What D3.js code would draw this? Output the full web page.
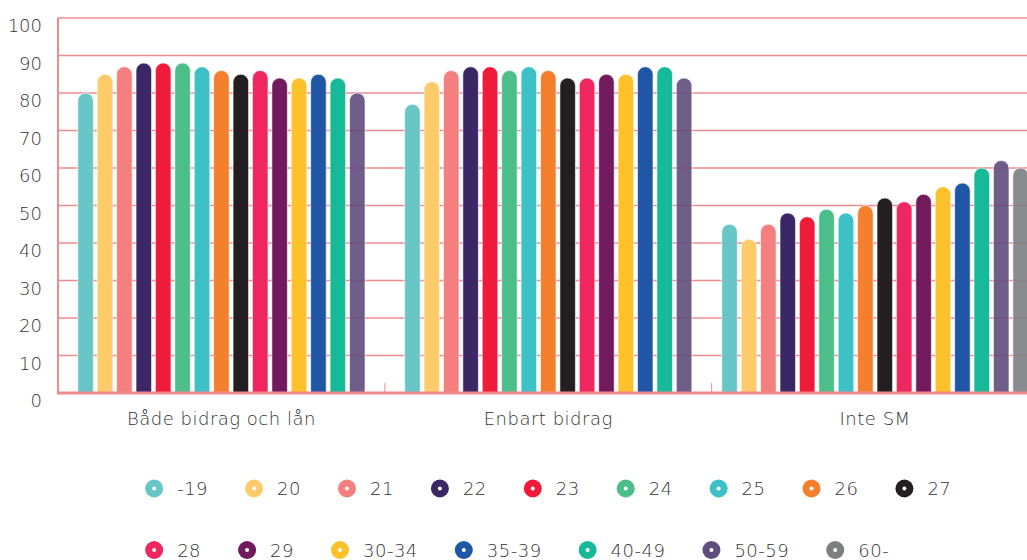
<!DOCTYPE html>
<html>
<head>
<meta charset="utf-8">
<script src="https://cdn.jsdelivr.net/npm/d3@7/dist/d3.min.js"></script>
<style>
  html, body { margin: 0; padding: 0; background: #fff; overflow: hidden; }
  svg { display: block; font-family: "DejaVu Sans", sans-serif; font-weight: 200; }
</style>
</head>
<body>
<svg id="chart" width="1027" height="560"></svg>
<script>
const categories = ["Både bidrag och lån", "Enbart bidrag", "Inte SM"];
const seriesNames = ["-19", "20", "21", "22", "23", "24", "25", "26", "27", "28", "29", "30-34", "35-39", "40-49", "50-59", "60-"];
const seriesColors = ["#68c6c6", "#fecb6a", "#f47f7f", "#3b2766", "#ef1b3b", "#4cbe89", "#3cc1c7", "#f47f2c", "#231f20", "#ee285e", "#721a5e", "#fec12a", "#1f56a6", "#16b998", "#5f4d7d", "#7d7e82"];
// values per series, one per category (null = no bar)
const valuesBothGrantLoan = [80, 85, 87, 88, 88, 88, 87, 86, 85, 86, 84, 84, 85, 84, 80, null];
const valuesGrantOnly     = [77, 83, 86, 87, 87, 86, 87, 86, 84, 84, 85, 85, 87, 87, 84, null];
const valuesNotSM         = [45, 41, 45, 48, 47, 49, 48, 50, 52, 51, 53, 55, 56, 60, 62, 60];
const yTicks = [0, 10, 20, 30, 40, 50, 60, 70, 80, 90, 100];

const groupValues = [valuesBothGrantLoan, valuesGrantOnly, valuesNotSM];

const svg = d3.select("#chart");
const plotLeft = 58, plotRight = 1038.5, plotTop = 18, plotBottom = 393;
const textColor = "#333333";
const gridColor = "#f28a8c";

const x = d3.scaleBand().domain(categories).range([plotLeft, plotRight]).padding(0);
const y = d3.scaleLinear().domain([0, 100]).range([plotBottom, plotTop]);

// gridlines
svg.append("g").selectAll("line").data(yTicks.filter(d => d > 0)).join("line")
  .attr("x1", plotLeft).attr("x2", plotRight)
  .attr("y1", d => y(d)).attr("y2", d => y(d))
  .attr("stroke", gridColor).attr("stroke-width", 1.5);

// y labels
svg.append("g").selectAll("text").data(yTicks).join("text")
  .attr("x", 42).attr("y", d => y(d) + 14)
  .attr("text-anchor", "end")
  .attr("font-size", 18).attr("fill", textColor)
  .text(d => d);

// bars
const pitch = x.bandwidth() * 0.95 / 16;
categories.forEach((cat, gi) => {
  const vals = groupValues[gi];
  const present = seriesNames.map((s, i) => ({ s, i, v: vals[i] })).filter(d => d.v !== null);
  const c = x(cat) + x.bandwidth() / 2;
  const n = present.length;
  const inner = d3.scaleBand().domain(present.map(d => d.s))
    .range([c - n * pitch / 2, c + n * pitch / 2]).paddingInner(0.2).paddingOuter(0.1);
  const w = inner.bandwidth();
  const r = w / 2;
  svg.append("g").selectAll("path").data(present).join("path")
    .attr("d", d => {
      const x0 = inner(d.s), x1 = x0 + w, yt = y(d.v), yb = y(0);
      return `M${x0},${yb} L${x0},${yt + r} A${r},${r} 0 0 1 ${x1},${yt + r} L${x1},${yb} Z`;
    })
    .attr("fill", d => seriesColors[d.i])
    .attr("fill-opacity", d => d.i >= 14 ? 0.9 : 1)
    .attr("stroke", "#ffffff").attr("stroke-width", 0.6);
});

// axes lines
svg.append("line").attr("x1", plotLeft).attr("x2", plotLeft).attr("y1", plotTop).attr("y2", plotBottom + 1.5)
  .attr("stroke", gridColor).attr("stroke-width", 2);
svg.append("line").attr("x1", plotLeft).attr("x2", plotRight).attr("y1", plotBottom).attr("y2", plotBottom)
  .attr("stroke", gridColor).attr("stroke-width", 3);
// category tick marks at band boundaries
svg.append("g").selectAll("line").data(categories.slice(1)).join("line")
  .attr("x1", d => x(d)).attr("x2", d => x(d))
  .attr("y1", plotBottom - 10).attr("y2", plotBottom)
  .attr("stroke", gridColor).attr("stroke-width", 1);

// category labels
svg.append("g").selectAll("text").data(categories).join("text")
  .attr("x", d => x(d) + x.bandwidth() / 2).attr("y", 425)
  .attr("text-anchor", "middle").attr("font-size", 18).attr("fill", textColor)
  .attr("letter-spacing", 0.5)
  .text(d => d);

// legend
const legend = svg.append("g");
const items = seriesNames.map((s, i) => {
  const g = legend.append("g");
  g.append("circle").attr("cx", 9).attr("cy", 0).attr("r", 9).attr("fill", seriesColors[i]);
  g.append("circle").attr("cx", 9).attr("cy", 0).attr("r", 2).attr("fill", "#ffffff");
  const t = g.append("text").attr("x", 32).attr("y", 6.5).attr("font-size", 18).attr("fill", textColor)
    .attr("letter-spacing", 0.5).text(s);
  const tw = t.node().getComputedTextLength();
  return { g, width: 32 + tw + 37 };
});
const maxRowWidth = 880;
const rows = [];
let cur = [], curW = 0;
items.forEach(it => {
  if (curW + it.width > maxRowWidth && cur.length) { rows.push({ items: cur, w: curW }); cur = []; curW = 0; }
  cur.push(it); curW += it.width;
});
if (cur.length) rows.push({ items: cur, w: curW });
const boxW = d3.max(rows, r => r.w) - 37;
const startX = (plotLeft + plotRight) / 2 - boxW / 2;
const rowYs = [488.5, 550];
rows.forEach((row, ri) => {
  let xx = startX;
  row.items.forEach(it => {
    it.g.attr("transform", `translate(${xx},${rowYs[ri] !== undefined ? rowYs[ri] : 488.5 + ri * 61.5})`);
    xx += it.width;
  });
});
</script>
</body>
</html>
